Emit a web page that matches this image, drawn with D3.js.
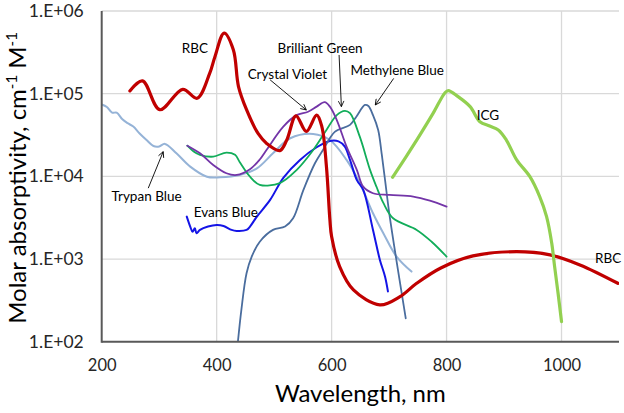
<!DOCTYPE html>
<html><head><meta charset="utf-8">
<script src="https://cdnjs.cloudflare.com/ajax/libs/d3/7.8.5/d3.min.js"></script>
<style>body{margin:0;background:#fff}svg{display:block;font-family:Lato,"Open Sans",sans-serif}</style>
</head><body><svg id="c" width="624" height="413"></svg>
<script>
// ---- data ----
const xTicks = [200, 400, 600, 800, 1000];
const xTickLabels = ["200", "400", "600", "800", "1000"];
const yTicks = [1e2, 1e3, 1e4, 1e5, 1e6];
const yTickLabels = ["1.E+02", "1.E+03", "1.E+04", "1.E+05", "1.E+06"];

const rbc = [[249,1.08e5],[271,1.43e5],[301,6.4e4],[341,1.13e5],[366,8.8e4],[388,1.77e5],[397,2.8e5],[413,5.4e5],[429,3.4e5],[438,1.22e5],[452,6.4e4],[472,3.3e4],[487,2.5e4],[510,2.05e4],[522,2.75e4],[538,5.4e4],[556,3.5e4],[574,5.5e4],[583,4.0e4],[591,1.31e4],[597,3.0e3],[600,1.87e3],[614,810],[638,423],[684,279],[719,351],[748,509],[790,780],[846,1090],[922,1228],[980,1122],[1032,849],[1098,509]];
const trypanBlue = [[200,7.4e4],[209,6.9e4],[218,5.9e4],[226,5.9e4],[236,4.9e4],[245,4.4e4],[255,4.0e4],[266,3.3e4],[278,2.75e4],[290,2.33e4],[300,2.3e4],[310,2.47e4],[330,1.9e4],[354,1.31e4],[383,9.9e3],[406,9.75e3],[440,1.04e4],[470,1.25e4],[498,1.9e4],[528,2.89e4],[568,3.26e4],[597,2.75e4],[626,1.58e4],[649,8.3e3],[672,3.58e3],[690,2.05e3],[713,1.07e3],[739,705]];
const crystalViolet = [[349,2.35e4],[371,1.9e4],[394,1.37e4],[417,1.09e4],[435,1.04e4],[458,1.22e4],[475,1.6e4],[487,2.1e4],[516,4.0e4],[539,5.5e4],[559,6.05e4],[574,6.97e4],[588,7.9e4],[597,6.97e4],[609,4.8e4],[626,2.29e4],[644,1.19e4],[655,7.5e3],[672,6.25e3],[701,5.96e3],[742,5.69e3],[771,5.08e3],[800,4.3e3]];
const brilliantGreen = [[349,2.35e4],[360,2.0e4],[371,1.82e4],[394,1.73e4],[417,1.94e4],[432,1.82e4],[440,1.49e4],[458,9.9e3],[475,7.9e3],[510,8.3e3],[539,1.19e4],[568,2.08e4],[591,3.64e4],[609,5.5e4],[623,6.2e4],[632,5.8e4],[649,3.02e4],[667,1.19e4],[678,7.5e3],[690,4.77e3],[707,3.11e3],[748,2.25e3],[774,1.62e3],[800,1.07e3]];
const methyleneBlue = [[437,100],[443,243],[452,673],[461,1070],[475,1620],[498,2250],[519,2470],[533,3110],[551,6860],[571,1.44e4],[585,2.08e4],[606,3.47e4],[632,4.19e4],[643,5.27e4],[658,7.3e4],[664,7.1e4],[672,5.5e4],[681,3.64e4],[687,1.9e4],[693,9.0e3],[701,3.3e3],[729,192]];
const evansBlue = [[348,3260],[354,2470],[358,2140],[362,2350],[365,2050],[371,2250],[385,2470],[400,2580],[412,2510],[426,2250],[435,2190],[452,2250],[458,2470],[470,3260],[493,5190],[516,9600],[545,1.58e4],[574,2.25e4],[597,2.68e4],[612,2.65e4],[623,2.29e4],[632,1.58e4],[644,9.0e3],[655,6.86e3],[672,2.25e3],[684,975],[693,612],[698,406]];
const icg = [[706,9750],[730,1.75e4],[754,3.2e4],[777,5.85e4],[797,1.02e5],[803,1.09e5],[820,9.2e4],[841,6.97e4],[858,4.58e4],[875,4.06e4],[890,3.64e4],[904,2.75e4],[922,1.58e4],[945,9.9e3],[962,5.69e3],[974,3.26e3],[983,1.55e3],[988,809],[994,385],[1000,175]];

const seriesNames = ["Trypan Blue","Evans Blue","Methylene Blue","Brilliant Green","Crystal Violet","RBC","ICG"];
const seriesData = [trypanBlue, evansBlue, methyleneBlue, brilliantGreen, crystalViolet, rbc, icg];
const seriesColors = ["#95B3D7","#1414E6","#4A6D9E","#12AD5A","#7335A8","#C00000","#92D050"];
const seriesWidths = [2, 2, 1.8, 1.8, 1.8, 3.2, 3.2];

// labels: [text, wavelength, value]
const labels = [["RBC",362,3.57e5],["Crystal Violet",523,1.73e5],["Brilliant Green",580,3.57e5],["Methylene Blue",714,1.94e5],["ICG",872,5.45e4],["RBC",1081,1030],["Trypan Blue",278,5.8e3],["Evans Blue",416,3.72e3]];
// arrows: [fromWl, fromVal, toWl, toVal]
const arrows = [[493,1.47e5,556,6.35e4],[613,2.94e5,617,6.97e4],[708,1.53e5,676,7.3e4],[281,7.2e3,307,1.99e4]];

// ---- chart ----
const W = 624, H = 413;
const m = {l:101.7, r:619, t:11, b:341.7};
const svg = d3.select("#c");
svg.append("rect").attr("width",W).attr("height",H).attr("fill","#fff");
const x = d3.scaleLinear().domain([200,1100]).range([m.l,m.r]);
const y = d3.scaleLog().domain([1e2,1e6]).range([m.b,m.t]);

// gridlines
svg.append("g").selectAll("line").data(yTicks.slice(1)).join("line")
  .attr("x1",m.l).attr("x2",m.r).attr("y1",d=>y(d)).attr("y2",d=>y(d))
  .attr("stroke","#D9D9D9").attr("stroke-width",1.3);
svg.append("g").selectAll("line").data(xTicks.slice(1)).join("line")
  .attr("x1",d=>x(d)).attr("x2",d=>x(d)).attr("y1",m.t).attr("y2",m.b)
  .attr("stroke","#D9D9D9").attr("stroke-width",1.3);

// axes (labels only, lines drawn manually)
const yAxis = d3.axisLeft(y).tickValues(yTicks).tickFormat((d,i)=>yTickLabels[i]).tickSize(0).tickPadding(18);
const gy = svg.append("g").attr("transform",`translate(${m.l},0)`).call(yAxis);
gy.select(".domain").remove();
gy.selectAll("text").attr("font-size",17.5).attr("fill","#262626").attr("font-family","Lato,'Open Sans',sans-serif");

const xAxis = d3.axisBottom(x).tickValues(xTicks).tickFormat((d,i)=>xTickLabels[i]).tickSize(0).tickPadding(18);
const gx = svg.append("g").attr("transform",`translate(0,${m.b})`).call(xAxis);
gx.select(".domain").remove();
gx.selectAll("text").attr("font-size",16.5).attr("fill","#262626").attr("font-family","Lato,'Open Sans',sans-serif");

// clip
svg.append("clipPath").attr("id","clip").append("rect").attr("x",m.l).attr("y",m.t).attr("width",m.r-m.l).attr("height",m.b-m.t);

const line = d3.line().x(d=>x(d[0])).y(d=>y(d[1])).curve(d3.curveCatmullRom.alpha(0.5));
svg.append("g").attr("clip-path","url(#clip)").selectAll("path").data(seriesData).join("path")
  .attr("d",line).attr("fill","none")
  .attr("stroke",(d,i)=>seriesColors[i]).attr("stroke-width",(d,i)=>seriesWidths[i])
  .attr("stroke-linejoin","round").attr("stroke-linecap","round");

// axis lines
svg.append("line").attr("x1",m.l).attr("x2",m.l).attr("y1",m.t).attr("y2",m.b+1).attr("stroke","#595959").attr("stroke-width",2);
svg.append("line").attr("x1",m.l).attr("x2",m.r).attr("y1",m.b).attr("y2",m.b).attr("stroke","#595959").attr("stroke-width",2);

// arrows
svg.append("defs").append("marker").attr("id","ah").attr("viewBox","0 0 10 10").attr("refX",9).attr("refY",5)
  .attr("markerWidth",7).attr("markerHeight",7).attr("orient","auto").attr("markerUnits","userSpaceOnUse")
  .append("path").attr("d","M1,1 L9,5 L1,9").attr("fill","none").attr("stroke","#000").attr("stroke-width",1.2);
svg.append("g").selectAll("line").data(arrows).join("line")
  .attr("x1",d=>x(d[0])).attr("y1",d=>y(d[1])).attr("x2",d=>x(d[2])).attr("y2",d=>y(d[3]))
  .attr("stroke","#000").attr("stroke-width",0.9).attr("marker-end","url(#ah)");

// labels
svg.append("g").selectAll("text").data(labels).join("text")
  .attr("x",d=>x(d[1])).attr("y",d=>y(d[2])).attr("dy","0.35em").attr("text-anchor","middle")
  .attr("font-size",13.5).attr("fill","#000").text(d=>d[0]);

// axis titles
svg.append("text").attr("x",(m.l+m.r)/2).attr("y",402).attr("text-anchor","middle").attr("font-size",24).attr("fill","#000").text("Wavelength, nm");
const yt = svg.append("text").attr("transform","translate(26,178) rotate(-90)").attr("text-anchor","middle").attr("font-size",24).attr("fill","#000");
yt.append("tspan").text("Molar absorptivity, cm");
yt.append("tspan").attr("font-size",15).attr("dy",-9).text("-1");
yt.append("tspan").attr("dy",9).text(" M");
yt.append("tspan").attr("font-size",15).attr("dy",-9).text("-1");
</script></body></html>
